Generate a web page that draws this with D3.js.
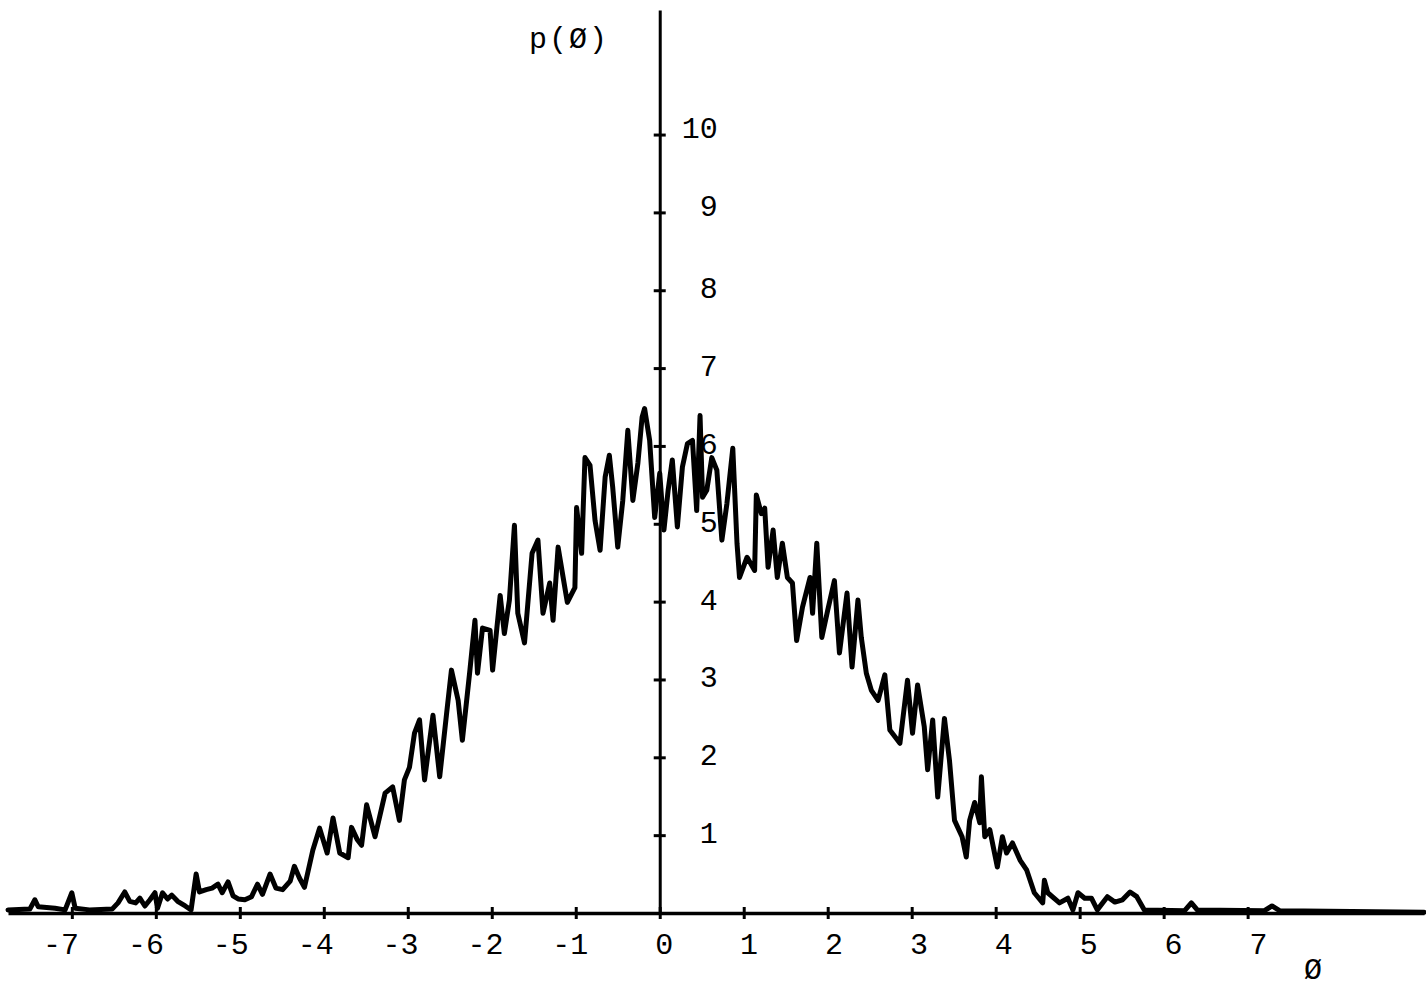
<!DOCTYPE html>
<html>
<head>
<meta charset="utf-8">
<script src="https://cdn.jsdelivr.net/npm/d3@7"></script>
<style>
  html, body { margin: 0; padding: 0; background: #fff; }
  svg { display: block; }
  text { font-family: "Liberation Mono", "DejaVu Sans Mono", monospace; fill: #000; }
</style>
</head>
<body>
<svg id="chart" width="1426" height="991"></svg>
<script>
// ---- data ----
const phi = [
  -7.76, -7.50, -7.44, -7.40, -7.20, -7.08, -7.00, -6.96, -6.79, -6.52,
  -6.45, -6.37, -6.31, -6.24, -6.19, -6.13, -6.07, -6.01, -5.98, -5.92,
  -5.86, -5.81, -5.74, -5.65, -5.58, -5.52, -5.48, -5.40, -5.33, -5.26,
  -5.21, -5.14, -5.08, -5.02, -4.94, -4.86, -4.79, -4.73, -4.64, -4.57,
  -4.49, -4.40, -4.35, -4.29, -4.23, -4.13, -4.05, -3.96, -3.89, -3.81,
  -3.71, -3.67, -3.60, -3.55, -3.49, -3.39, -3.27, -3.18, -3.10, -3.04,
  -2.98, -2.92, -2.86, -2.80, -2.70, -2.62, -2.54, -2.48, -2.40, -2.35,
  -2.26, -2.20, -2.17, -2.11, -2.02, -1.99, -1.90, -1.85, -1.79, -1.73,
  -1.69, -1.61, -1.52, -1.45, -1.39, -1.31, -1.27, -1.21, -1.15, -1.10,
  -1.01, -0.99, -0.93, -0.89, -0.83, -0.77, -0.71, -0.65, -0.60, -0.56,
  -0.50, -0.44, -0.38, -0.32, -0.26, -0.21, -0.18, -0.12, -0.06, 0.00,
   0.05,  0.10,  0.15,  0.21,  0.27,  0.33,  0.39,  0.44,  0.48,  0.51,
   0.56,  0.62,  0.68,  0.74,  0.80,  0.87,  0.92,  0.95,  1.04,  1.13,
   1.15,  1.21,  1.25,  1.29,  1.35,  1.40,  1.46,  1.52,  1.58,  1.63,
   1.70,  1.79,  1.82,  1.87,  1.93,  2.00,  2.08,  2.14,  2.23,  2.29,
   2.36,  2.40,  2.46,  2.52,  2.60,  2.68,  2.74,  2.86,  2.95,  3.01,
   3.07,  3.15,  3.19,  3.25,  3.31,  3.39,  3.45,  3.51,  3.60,  3.65,
   3.69,  3.75,  3.81,  3.83,  3.87,  3.93,  4.02,  4.08,  4.13,  4.20,
   4.29,  4.37,  4.46,  4.56,  4.58,  4.62,  4.76,  4.86,  4.92,  4.98,
   5.06,  5.14,  5.21,  5.33,  5.42,  5.51,  5.60,  5.68,  5.77,  6.25,
   6.33,  6.40,  7.20,  7.29,  7.38,  9.10
];
const p = [
  0.04, 0.05, 0.17, 0.08, 0.06, 0.04, 0.26, 0.06, 0.04, 0.05,
  0.13, 0.27, 0.15, 0.13, 0.19, 0.09, 0.17, 0.26, 0.06, 0.26,
  0.18, 0.23, 0.15, 0.09, 0.04, 0.50, 0.27, 0.30, 0.32, 0.37,
  0.26, 0.40, 0.22, 0.18, 0.17, 0.21, 0.37, 0.24, 0.50, 0.32,
  0.30, 0.41, 0.60, 0.45, 0.33, 0.81, 1.09, 0.77, 1.22, 0.77,
  0.71, 1.10, 0.94, 0.87, 1.39, 0.98, 1.54, 1.62, 1.19, 1.71,
  1.87, 2.31, 2.48, 1.71, 2.54, 1.75, 2.54, 3.12, 2.73, 2.22,
  3.12, 3.76, 3.08, 3.66, 3.63, 3.12, 4.08, 3.59, 4.02, 4.98,
  3.85, 3.47, 4.62, 4.79, 3.85, 4.24, 3.76, 4.70, 4.31, 3.99,
  4.18, 5.21, 4.62, 5.85, 5.75, 5.04, 4.66, 5.60, 5.88, 5.47,
  4.70, 5.30, 6.20, 5.30, 5.78, 6.37, 6.48, 6.07, 5.08, 5.65,
  4.92, 5.43, 5.82, 4.96, 5.73, 6.03, 6.07, 5.17, 6.39, 5.34,
  5.43, 5.85, 5.69, 4.79, 5.26, 5.97, 4.75, 4.31, 4.57, 4.40,
  5.37, 5.13, 5.20, 4.44, 4.92, 4.31, 4.75, 4.31, 4.24, 3.50,
  3.93, 4.31, 3.85, 4.75, 3.54, 3.89, 4.27, 3.34, 4.11, 3.16,
  4.02, 3.54, 3.08, 2.86, 2.73, 3.06, 2.35, 2.18, 2.99, 2.31,
  2.93, 2.39, 1.84, 2.48, 1.49, 2.50, 1.96, 1.19, 0.98, 0.72,
  1.19, 1.42, 1.16, 1.75, 0.98, 1.07, 0.59, 0.98, 0.77, 0.90,
  0.68, 0.55, 0.26, 0.13, 0.42, 0.26, 0.13, 0.19, 0.04, 0.26,
  0.19, 0.19, 0.04, 0.21, 0.14, 0.17, 0.27, 0.21, 0.04, 0.03,
  0.13, 0.04, 0.03, 0.09, 0.03, 0.01
];
const xTicks = [-7, -6, -5, -4, -3, -2, -1, 0, 1, 2, 3, 4, 5, 6, 7];
const yTicks = [1, 2, 3, 4, 5, 6, 7, 8, 9, 10];
const xLabel = "\u00D8";
const yLabel = "p(\u00D8)";

// ---- layout ----
const svg = d3.select("#chart");
const x = d3.scaleLinear().domain([-7.76, 9.1]).range([8, 1424]);
const y = d3.scaleLinear().domain([0, 11.6]).range([913, 10]);
const FS = 30;

// curve
const pts = phi.map((v, i) => [v, p[i]]);
svg.append("path")
  .datum(pts)
  .attr("fill", "none")
  .attr("stroke", "#000")
  .attr("stroke-width", 5)
  .attr("stroke-linejoin", "round")
  .attr("stroke-linecap", "round")
  .attr("d", d3.line().x(d => x(d[0])).y(d => y(d[1])));

// x axis
const gx = svg.append("g")
  .attr("transform", `translate(0,${y(0)})`)
  .call(d3.axisBottom(x).tickValues(xTicks).tickSizeOuter(0).tickSizeInner(6)
        .tickFormat(d => d < 0 ? "-" + Math.abs(d) : String(d)));
gx.select(".domain").attr("stroke", "#000").attr("stroke-width", 3.5);
gx.selectAll(".tick line").attr("y1", -6).attr("y2", 6).attr("stroke", "#000").attr("stroke-width", 3);
gx.selectAll(".tick text")
  .attr("font-size", FS)
  .attr("font-family", "Liberation Mono, monospace")
  .attr("y", 41).attr("dy", 0)
  .attr("x", d => (4 + d * 0.9) - (d < 0 ? FS * 0.3 : 0));

// y axis
const gy = svg.append("g")
  .attr("transform", `translate(${x(0)},0)`)
  .call(d3.axisRight(y).tickValues(yTicks).tickSizeOuter(0).tickSizeInner(6));
gy.select(".domain").attr("stroke", "#000").attr("stroke-width", 3);
gy.selectAll(".tick line").attr("x1", -6).attr("x2", 6).attr("stroke", "#000").attr("stroke-width", 3);
gy.selectAll(".tick text")
  .attr("font-size", FS)
  .attr("font-family", "Liberation Mono, monospace")
  .attr("text-anchor", "end")
  .attr("x", 58).attr("dy", d => d >= 9 ? "0.1em" : "0.25em");

// axis titles
svg.append("text").attr("x", 569).attr("y", 48)
  .attr("text-anchor", "middle").attr("font-size", FS)
  .attr("letter-spacing", 2).text(yLabel);
svg.append("text").attr("x", 1313).attr("y", 979)
  .attr("text-anchor", "middle").attr("font-size", FS).text(xLabel);
</script>
</body>
</html>
